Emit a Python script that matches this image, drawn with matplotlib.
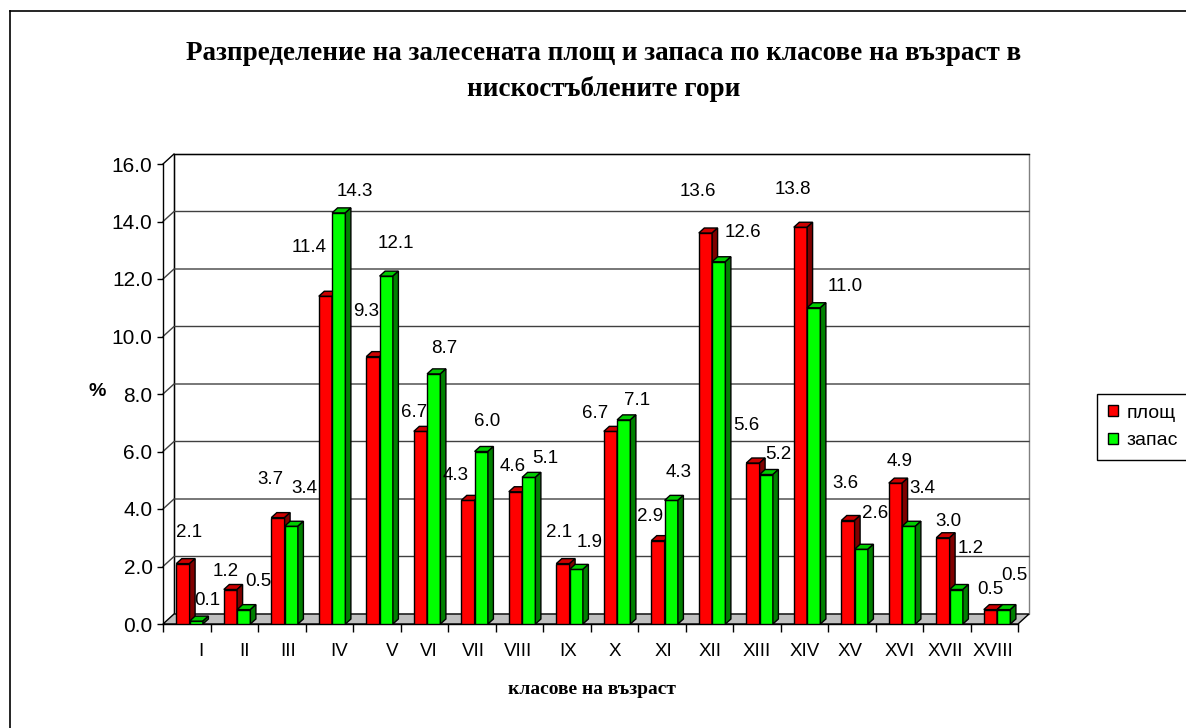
import matplotlib.pyplot as plt
from matplotlib.patches import Polygon, Patch
from matplotlib.lines import Line2D

plt.rcParams['font.family'] = ['Liberation Sans', 'DejaVu Sans']

# age classes and shares (%)
classes = ['I', 'II', 'III', 'IV', 'V', 'VI', 'VII', 'VIII', 'IX', 'X',
           'XI', 'XII', 'XIII', 'XIV', 'XV', 'XVI', 'XVII', 'XVIII']
area = [2.1, 1.2, 3.7, 11.4, 9.3, 6.7, 4.3, 4.6, 2.1, 6.7,
        2.9, 13.6, 5.6, 13.8, 3.6, 4.9, 3.0, 0.5]
stock = [0.1, 0.5, 3.4, 14.3, 12.1, 8.7, 6.0, 5.1, 1.9, 7.1,
         4.3, 12.6, 5.2, 11.0, 2.6, 3.4, 1.2, 0.5]
yticks = [0, 2, 4, 6, 8, 10, 12, 14, 16]

# where Excel put the value labels (pixel offset from the bar top)
area_lbl = [(6, 31), (-5, 18), (-8, 38), (-16, 49), (-7, 45), (-6, 19),
            (-12, 25), (-3, 25), (-4, 31), (-15, 18), (-8, 24), (-8, 41),
            (-7, 38), (-8, 38), (-3, 37), (4, 22), (5, 16), (0, 20)]
stock_lbl = [(11, 21), (15, 28), (13, 38), (16, 21), (10, 33), (11, 25),
             (6, 30), (17, 19), (13, 27), (13, 19), (7, 28), (24, 29),
             (12, 20), (31, 21), (14, 36), (14, 38), (14, 41), (11, 34)]
# category label positions (Excel spaced them a bit unevenly)
xlabel_pos = [0.79, 1.71, 2.63, 3.70, 4.82, 5.60, 6.53, 7.47, 8.52, 9.52,
              10.53, 11.52, 12.50, 13.52, 14.46, 15.52, 16.46, 17.47]

W, H = 1186, 728
fig = plt.figure(figsize=(W / 100, H / 100), dpi=100)
ax = fig.add_axes([163 / W, 1 - 624 / H, 855 / W, 460 / H])
n = len(classes)
ax.set_xlim(0, n)
ax.set_ylim(0, 16)
ax.patch.set_visible(False)

# pixel -> data units
p0 = ax.transData.transform((0, 0))
p1 = ax.transData.transform((1, 1))
sx, sy = p1[0] - p0[0], p1[1] - p0[1]
wdx, wdy = 11 / sx, 10 / sy      # wall depth
bdx, bdy = 5.5 / sx, 5 / sy      # bar depth

# back wall, floor, gridlines
ax.add_patch(Polygon([(wdx, wdy), (n + wdx, wdy), (n + wdx, 16 + wdy), (wdx, 16 + wdy)],
                     closed=True, fc='white', ec='#808080', lw=1, zorder=0, clip_on=False))
ax.plot([wdx, wdx, n + wdx], [wdy, 16 + wdy, 16 + wdy], color='black', lw=1,
        zorder=0.5, clip_on=False)
ax.plot([0, wdx], [16, 16 + wdy], color='black', lw=1, zorder=0.5, clip_on=False)
for y in yticks[1:-1]:
    ax.plot([0, wdx, n + wdx], [y, y + wdy, y + wdy], color='#404040', lw=1,
            zorder=0.5, clip_on=False)
ax.add_patch(Polygon([(0, 0), (n, 0), (n + wdx, wdy), (wdx, wdy)], closed=True,
                     fc='#c0c0c0', ec='black', lw=1, zorder=1, clip_on=False))


def bars3d(x0, w, vals, front, top, side):
    ax.bar(x0, vals, width=w, align='edge', color=front, edgecolor='black',
           linewidth=1, zorder=3)
    for x, v in zip(x0, vals):
        ax.add_patch(Polygon([(x, v), (x + w, v), (x + w + bdx, v + bdy), (x + bdx, v + bdy)],
                             closed=True, fc=top, ec='black', lw=1, zorder=3, clip_on=False))
        ax.add_patch(Polygon([(x + w, 0), (x + w + bdx, bdy), (x + w + bdx, v + bdy), (x + w, v)],
                             closed=True, fc=side, ec='black', lw=1, zorder=3, clip_on=False))


bw = 0.28
idx = list(range(n))
for i in idx:
    bars3d([i + 0.28], bw, [area[i]], '#ff0000', '#cc0000', '#800000')
    bars3d([i + 0.56], bw, [stock[i]], '#00ff00', '#00cc00', '#008000')

for i in idx:
    ax.annotate(f'{area[i]:.1f}', (i + 0.42, area[i]), xytext=(area_lbl[i][0], area_lbl[i][1]),
                textcoords='offset pixels', ha='center', va='center', fontsize=13.5, zorder=5)
    ax.annotate(f'{stock[i]:.1f}', (i + 0.70, stock[i]), xytext=(stock_lbl[i][0], stock_lbl[i][1]),
                textcoords='offset pixels', ha='center', va='center', fontsize=13.5, zorder=5)

# axes
for s in ['top', 'right']:
    ax.spines[s].set_visible(False)
ax.spines['left'].set_linewidth(1)
ax.spines['bottom'].set_linewidth(1)
ax.spines['bottom'].set_zorder(2)
ax.set_yticks(yticks)
ax.set_yticklabels([f'{v:.1f}' for v in yticks], fontsize=15)
ax.tick_params(axis='y', length=4.5, width=1, pad=3)
ax.set_xticks(xlabel_pos)
ax.set_xticklabels(classes, fontsize=13.5)
ax.set_xticks(range(n + 1), minor=True)
ax.tick_params(axis='x', which='major', length=0, pad=14)
ax.tick_params(axis='x', which='minor', length=6, width=1)

fig.text(97 / W, 1 - 392 / H, '%', ha='center', va='center', fontsize=14, fontweight='bold')
fig.text(604 / W, 1 - 71 / H,
         'Разпределение на залесената площ и запаса по класове на възраст в\nнискостъблените гори',
         ha='center', va='center', fontsize=19.5, fontweight='bold',
         family='Liberation Serif', linespacing=1.5)
fig.text(592 / W, 1 - 690 / H, 'класове на възраст', ha='center', va='center',
         fontsize=14, fontweight='bold', family='Liberation Serif')

# outer chart border
fig.add_artist(Line2D([10 / W, 1], [1 - 11 / H, 1 - 11 / H], color='black', lw=1.2))
fig.add_artist(Line2D([10 / W, 10 / W], [0, 1 - 11 / H], color='black', lw=1.2))

handles = [Patch(fc='#ff0000', ec='black', label='площ'),
           Patch(fc='#00ff00', ec='black', label='запас')]
leg = fig.legend(handles=handles, loc='upper left', bbox_to_anchor=(1097 / W, 1 - 394 / H),
                 fontsize=14, frameon=True, fancybox=False, edgecolor='black', framealpha=1,
                 handlelength=0.52, handleheight=0.52, handletextpad=0.45, labelspacing=0.55,
                 borderpad=0.55, borderaxespad=0)
leg.get_frame().set_linewidth(1)

fig.savefig('out.png', dpi=100)
